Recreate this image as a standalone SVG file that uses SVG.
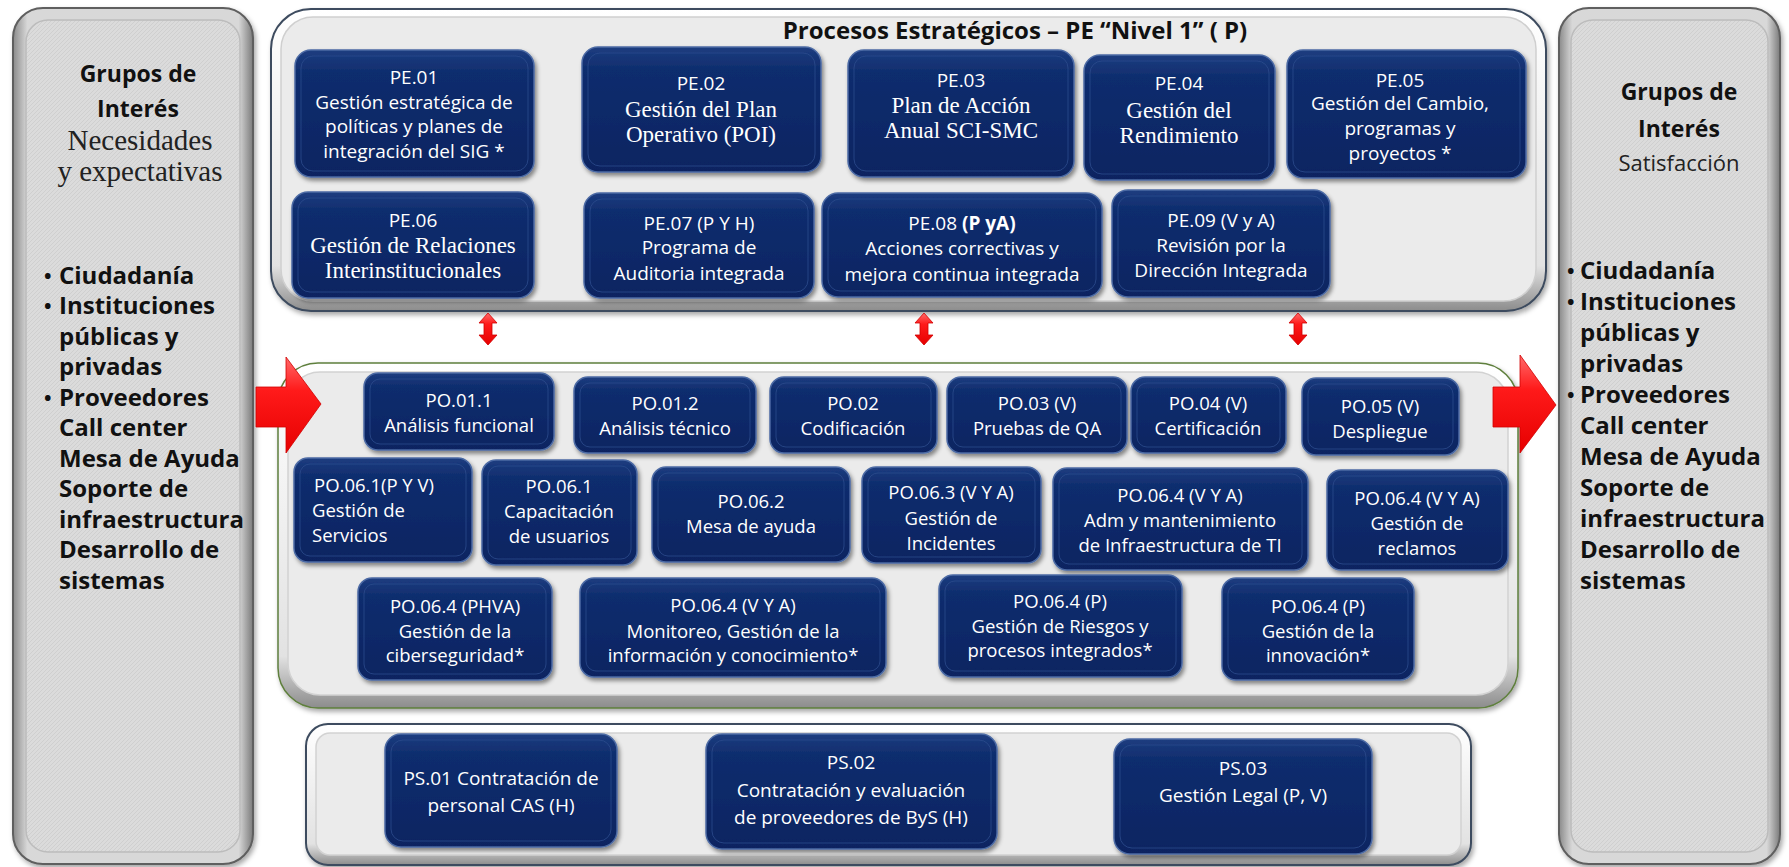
<svg xmlns="http://www.w3.org/2000/svg" width="1789" height="867" viewBox="0 0 1789 867">
<defs>
<linearGradient id="nodeGrad" x1="0" y1="0" x2="0" y2="1"><stop offset="0" stop-color="#1d3d80"/><stop offset="0.18" stop-color="#0f2d6e"/><stop offset="1" stop-color="#0a2461"/></linearGradient>
<linearGradient id="frameGrad" x1="0" y1="0" x2="0" y2="1"><stop offset="0" stop-color="#ffffff"/><stop offset="0.85" stop-color="#e2e2e2"/><stop offset="1" stop-color="#8c8c8c"/></linearGradient>
<linearGradient id="sideGrad" x1="0" y1="0" x2="1" y2="0"><stop offset="0" stop-color="#8a8a8a"/><stop offset="0.06" stop-color="#d8d8d8"/><stop offset="0.94" stop-color="#d8d8d8"/><stop offset="1" stop-color="#7a7a7a"/></linearGradient>
<linearGradient id="redGrad" x1="0" y1="0" x2="0" y2="1"><stop offset="0" stop-color="#ff6a6a"/><stop offset="0.35" stop-color="#ff1a1a"/><stop offset="1" stop-color="#e60000"/></linearGradient>
<pattern id="hatch" width="4" height="4" patternUnits="userSpaceOnUse"><rect width="4" height="4" fill="#dbdbdb"/><path d="M0 4 L4 0" stroke="#cbcbcb" stroke-width="0.8"/></pattern>
<filter id="shadow" x="-10%" y="-10%" width="120%" height="130%"><feDropShadow dx="2" dy="3" stdDeviation="2" flood-color="#000" flood-opacity="0.45"/></filter>
<filter id="pshadow" x="-5%" y="-5%" width="110%" height="115%"><feDropShadow dx="2" dy="3" stdDeviation="2.5" flood-color="#000" flood-opacity="0.35"/></filter>
<style>
.node rect.b{fill:url(#nodeGrad);stroke:#4c6aa4;stroke-width:1.5;filter:url(#shadow)}
.node rect.i{fill:none;stroke:#2c4b8c;stroke-width:1;opacity:0.8}
.t{font-family:'Open Sans','Liberation Sans',sans-serif;font-size:19px;fill:#ffffff;text-anchor:middle}
.s{font-family:'Liberation Serif','Times New Roman',serif;font-size:23px;fill:#ffffff;text-anchor:middle}
.po{font-size:18.5px}
.l{text-anchor:start}
.side{font-family:'Open Sans','Liberation Sans',sans-serif;font-weight:bold;font-size:24px;fill:#111}
.bul{font-size:20px}
.head{font-family:'Open Sans','Liberation Sans',sans-serif;font-weight:bold;font-size:23px;fill:#111;text-anchor:middle}
.red{fill:url(#redGrad);stroke:#d00000;stroke-width:0.8}
</style>
</defs>
<rect width="1789" height="867" fill="#ffffff"/>

<!-- Side panels -->
<g id="grupos-interes-necesidades">
<rect x="13" y="8" width="240" height="856" rx="30" fill="url(#sideGrad)" stroke="#5e5e5e" stroke-width="2" filter="url(#pshadow)"/>
<rect x="26" y="20" width="214" height="832" rx="22" fill="url(#hatch)" stroke="#bcbcbc" stroke-width="1.5"/>
<text class="head" x="138" y="82">Grupos de</text>
<text class="head" x="138" y="117">Interés</text>
<text x="140" y="150" font-family="'Liberation Serif','Times New Roman',serif" font-size="29" fill="#222" text-anchor="middle">Necesidades</text>
<text x="140" y="181" font-family="'Liberation Serif','Times New Roman',serif" font-size="29" fill="#222" text-anchor="middle">y expectativas</text>
<g class="side">
<text class="bul" x="44" y="283">•</text><text x="59" y="284">Ciudadanía</text>
<text class="bul" x="44" y="313">•</text><text x="59" y="314">Instituciones</text>
<text x="59" y="345">públicas y</text>
<text x="59" y="375">privadas</text>
<text class="bul" x="44" y="405">•</text><text x="59" y="406">Proveedores</text>
<text x="59" y="436">Call center</text>
<text x="59" y="467">Mesa de Ayuda</text>
<text x="59" y="497">Soporte de</text>
<text x="59" y="528">infraestructura</text>
<text x="59" y="558">Desarrollo de</text>
<text x="59" y="589">sistemas</text>
</g>
</g>

<g id="grupos-interes-satisfaccion">
<rect x="1559" y="8" width="221" height="856" rx="30" fill="url(#sideGrad)" stroke="#5e5e5e" stroke-width="2" filter="url(#pshadow)"/>
<rect x="1571" y="20" width="197" height="832" rx="22" fill="url(#hatch)" stroke="#bcbcbc" stroke-width="1.5"/>
<text class="head" x="1679" y="100">Grupos de</text>
<text class="head" x="1679" y="137">Interés</text>
<text x="1679" y="171" font-family="'Open Sans','Liberation Sans',sans-serif" font-size="22" fill="#222" text-anchor="middle">Satisfacción</text>
<g class="side">
<text class="bul" x="1567" y="278">•</text><text x="1580" y="279">Ciudadanía</text>
<text class="bul" x="1567" y="309">•</text><text x="1580" y="310">Instituciones</text>
<text x="1580" y="341">públicas y</text>
<text x="1580" y="372">privadas</text>
<text class="bul" x="1567" y="402">•</text><text x="1580" y="403">Proveedores</text>
<text x="1580" y="434">Call center</text>
<text x="1580" y="465">Mesa de Ayuda</text>
<text x="1580" y="496">Soporte de</text>
<text x="1580" y="527">infraestructura</text>
<text x="1580" y="558">Desarrollo de</text>
<text x="1580" y="589">sistemas</text>
</g>
</g>

<!-- Process panels -->
<g id="panel-pe">
<rect x="271" y="9" width="1275" height="302" rx="40" fill="url(#frameGrad)" stroke="#3d4b5e" stroke-width="2" filter="url(#pshadow)"/>
<rect x="281" y="17" width="1255" height="284" rx="32" fill="#ebebeb" stroke="#cfcfcf" stroke-width="1.5"/>
<text x="1015" y="39" font-family="'Open Sans','Liberation Sans',sans-serif" font-weight="bold" font-size="24" fill="#111" text-anchor="middle">Procesos Estratégicos – PE “Nivel 1” ( P)</text>
</g>
<g id="panel-po">
<rect x="278" y="363" width="1240" height="345" rx="40" fill="url(#frameGrad)" stroke="#5e7f3c" stroke-width="1.5" filter="url(#pshadow)"/>
<rect x="288" y="372" width="1220" height="323" rx="32" fill="#ebebeb" stroke="#d2d2d2" stroke-width="1.5"/>
</g>
<g id="panel-ps">
<rect x="306" y="724" width="1165" height="141" rx="22" fill="url(#frameGrad)" stroke="#3d4b5e" stroke-width="2" filter="url(#pshadow)"/>
<rect x="316" y="733" width="1145" height="122" rx="14" fill="#ebebeb" stroke="#d2d2d2" stroke-width="1.5"/>
</g>

<!-- Connectors -->
<g id="connectors">
<path class="red" d="M256 387 L286 387 L286 357 L321 404 L286 453 L286 427 L256 427 Z"/>
<path class="red" d="M1493 387 L1520 387 L1520 355 L1556 405 L1520 453 L1520 427 L1493 427 Z"/>
<path class="red" d="M488 313 L497 323 L492 323 L492 335 L497 335 L488 345 L479 335 L484 335 L484 323 L479 323 Z"/>
<path class="red" d="M924 313 L933 323 L928 323 L928 335 L933 335 L924 345 L915 335 L920 335 L920 323 L915 323 Z"/>
<path class="red" d="M1298 313 L1307 323 L1302 323 L1302 335 L1307 335 L1298 345 L1289 335 L1294 335 L1294 323 L1289 323 Z"/>
</g>

<!-- PE nodes -->
<g id="PE01" class="node"><rect class="b" x="295" y="50" width="239" height="127" rx="16"/><rect class="i" x="301" y="56" width="227" height="115" rx="12"/>
<text class="t" x="414" y="84">PE.01</text><text class="t" x="414" y="109">Gestión estratégica de</text><text class="t" x="414" y="133">políticas y planes de</text><text class="t" x="414" y="158">integración del SIG *</text></g>
<g id="PE02" class="node"><rect class="b" x="582" y="47" width="239" height="125" rx="16"/><rect class="i" x="588" y="53" width="227" height="113" rx="12"/>
<text class="t" x="701" y="90">PE.02</text><text class="s" x="701" y="117">Gestión del Plan</text><text class="s" x="701" y="142">Operativo (POI)</text></g>
<g id="PE03" class="node"><rect class="b" x="848" y="50" width="226" height="127" rx="16"/><rect class="i" x="854" y="56" width="214" height="115" rx="12"/>
<text class="t" x="961" y="87">PE.03</text><text class="s" x="961" y="113">Plan de Acción</text><text class="s" x="961" y="138">Anual SCI-SMC</text></g>
<g id="PE04" class="node"><rect class="b" x="1084" y="55" width="191" height="125" rx="16"/><rect class="i" x="1090" y="61" width="179" height="113" rx="12"/>
<text class="t" x="1179" y="90">PE.04</text><text class="s" x="1179" y="118">Gestión del</text><text class="s" x="1179" y="143">Rendimiento</text></g>
<g id="PE05" class="node"><rect class="b" x="1287" y="50" width="239" height="128" rx="16"/><rect class="i" x="1293" y="56" width="227" height="116" rx="12"/>
<text class="t" x="1400" y="87">PE.05</text><text class="t" x="1400" y="110">Gestión del Cambio,</text><text class="t" x="1400" y="135">programas y</text><text class="t" x="1400" y="160">proyectos *</text></g>
<g id="PE06" class="node"><rect class="b" x="292" y="192" width="242" height="106" rx="16"/><rect class="i" x="298" y="198" width="230" height="94" rx="12"/>
<text class="t" x="413" y="227">PE.06</text><text class="s" x="413" y="253">Gestión de Relaciones</text><text class="s" x="413" y="278">Interinstitucionales</text></g>
<g id="PE07" class="node"><rect class="b" x="584" y="193" width="230" height="105" rx="16"/><rect class="i" x="590" y="199" width="218" height="93" rx="12"/>
<text class="t" x="699" y="230">PE.07 (P Y H)</text><text class="t" x="699" y="254">Programa de</text><text class="t" x="699" y="280">Auditoria integrada</text></g>
<g id="PE08" class="node"><rect class="b" x="822" y="193" width="280" height="104" rx="16"/><rect class="i" x="828" y="199" width="268" height="92" rx="12"/>
<text class="t" x="962" y="230">PE.08  <tspan font-weight="bold">(P yA)</tspan></text><text class="t" x="962" y="255">Acciones correctivas y</text><text class="t" x="962" y="281">mejora continua integrada</text></g>
<g id="PE09" class="node"><rect class="b" x="1112" y="190" width="218" height="107" rx="16"/><rect class="i" x="1118" y="196" width="206" height="95" rx="12"/>
<text class="t" x="1221" y="227">PE.09  (V y A)</text><text class="t" x="1221" y="252">Revisión  por la</text><text class="t" x="1221" y="277">Dirección Integrada</text></g>

<!-- PO nodes -->
<g id="PO011" class="node"><rect class="b" x="364" y="373" width="190" height="77" rx="14"/><rect class="i" x="370" y="379" width="178" height="65" rx="10"/>
<text class="t po" x="459" y="407">PO.01.1</text><text class="t po" x="459" y="432">Análisis funcional</text></g>
<g id="PO012" class="node"><rect class="b" x="574" y="377" width="182" height="76" rx="14"/><rect class="i" x="580" y="383" width="170" height="64" rx="10"/>
<text class="t po" x="665" y="410">PO.01.2</text><text class="t po" x="665" y="435">Análisis técnico</text></g>
<g id="PO02" class="node"><rect class="b" x="770" y="377" width="167" height="76" rx="14"/><rect class="i" x="776" y="383" width="155" height="64" rx="10"/>
<text class="t po" x="853" y="410">PO.02</text><text class="t po" x="853" y="435">Codificación</text></g>
<g id="PO03" class="node"><rect class="b" x="947" y="377" width="180" height="76" rx="14"/><rect class="i" x="953" y="383" width="168" height="64" rx="10"/>
<text class="t po" x="1037" y="410">PO.03 (V)</text><text class="t po" x="1037" y="435">Pruebas de QA</text></g>
<g id="PO04" class="node"><rect class="b" x="1131" y="377" width="155" height="76" rx="14"/><rect class="i" x="1137" y="383" width="143" height="64" rx="10"/>
<text class="t po" x="1208" y="410">PO.04 (V)</text><text class="t po" x="1208" y="435">Certificación</text></g>
<g id="PO05" class="node"><rect class="b" x="1302" y="378" width="157" height="77" rx="14"/><rect class="i" x="1308" y="384" width="145" height="65" rx="10"/>
<text class="t po" x="1380" y="413">PO.05 (V)</text><text class="t po" x="1380" y="438">Despliegue</text></g>
<g id="PO061-servicios" class="node"><rect class="b" x="294" y="458" width="178" height="104" rx="14"/><rect class="i" x="300" y="464" width="166" height="92" rx="10"/>
<text class="t po l" x="314" y="492">PO.06.1(P Y V)</text><text class="t po l" x="312" y="517">Gestión de</text><text class="t po l" x="312" y="542">Servicios</text></g>
<g id="PO061-capacitacion" class="node"><rect class="b" x="482" y="460" width="155" height="105" rx="14"/><rect class="i" x="488" y="466" width="143" height="93" rx="10"/>
<text class="t po" x="559" y="493">PO.06.1</text><text class="t po" x="559" y="518">Capacitación</text><text class="t po" x="559" y="543">de usuarios</text></g>
<g id="PO062" class="node"><rect class="b" x="652" y="467" width="198" height="95" rx="14"/><rect class="i" x="658" y="473" width="186" height="83" rx="10"/>
<text class="t po" x="751" y="508">PO.06.2</text><text class="t po" x="751" y="533">Mesa de ayuda</text></g>
<g id="PO063" class="node"><rect class="b" x="862" y="467" width="179" height="96" rx="14"/><rect class="i" x="868" y="473" width="167" height="84" rx="10"/>
<text class="t po" x="951" y="499">PO.06.3 (V Y A)</text><text class="t po" x="951" y="525">Gestión de</text><text class="t po" x="951" y="550">Incidentes</text></g>
<g id="PO064-infra" class="node"><rect class="b" x="1053" y="468" width="255" height="102" rx="14"/><rect class="i" x="1059" y="474" width="243" height="90" rx="10"/>
<text class="t po" x="1180" y="502">PO.06.4 (V Y A)</text><text class="t po" x="1180" y="527">Adm y mantenimiento</text><text class="t po" x="1180" y="552">de Infraestructura de TI</text></g>
<g id="PO064-reclamos" class="node"><rect class="b" x="1327" y="470" width="181" height="100" rx="14"/><rect class="i" x="1333" y="476" width="169" height="88" rx="10"/>
<text class="t po" x="1417" y="505">PO.06.4  (V Y A)</text><text class="t po" x="1417" y="530">Gestión de</text><text class="t po" x="1417" y="555">reclamos</text></g>
<g id="PO064-ciber" class="node"><rect class="b" x="358" y="578" width="194" height="102" rx="14"/><rect class="i" x="364" y="584" width="182" height="90" rx="10"/>
<text class="t po" x="455" y="613">PO.06.4  (PHVA)</text><text class="t po" x="455" y="638">Gestión  de la</text><text class="t po" x="455" y="662">ciberseguridad*</text></g>
<g id="PO064-monitoreo" class="node"><rect class="b" x="580" y="578" width="306" height="99" rx="14"/><rect class="i" x="586" y="584" width="294" height="87" rx="10"/>
<text class="t po" x="733" y="612">PO.06.4 (V Y A)</text><text class="t po" x="733" y="638">Monitoreo, Gestión de la</text><text class="t po" x="733" y="662">información y conocimiento*</text></g>
<g id="PO064-riesgos" class="node"><rect class="b" x="939" y="575" width="243" height="102" rx="14"/><rect class="i" x="945" y="581" width="231" height="90" rx="10"/>
<text class="t po" x="1060" y="608">PO.06.4  (P)</text><text class="t po" x="1060" y="633">Gestión  de Riesgos y</text><text class="t po" x="1060" y="657">procesos integrados*</text></g>
<g id="PO064-innovacion" class="node"><rect class="b" x="1222" y="578" width="192" height="102" rx="14"/><rect class="i" x="1228" y="584" width="180" height="90" rx="10"/>
<text class="t po" x="1318" y="613">PO.06.4 (P)</text><text class="t po" x="1318" y="638">Gestión  de la</text><text class="t po" x="1318" y="662">innovación*</text></g>

<!-- PS nodes -->
<g id="PS01" class="node"><rect class="b" x="385" y="734" width="232" height="113" rx="16"/><rect class="i" x="391" y="740" width="220" height="101" rx="12"/>
<text class="t" x="501" y="785">PS.01 Contratación de</text><text class="t" x="501" y="812">personal CAS (H)</text></g>
<g id="PS02" class="node"><rect class="b" x="706" y="734" width="291" height="115" rx="16"/><rect class="i" x="712" y="740" width="279" height="103" rx="12"/>
<text class="t" x="851" y="769">PS.02</text><text class="t" x="851" y="797">Contratación y evaluación</text><text class="t" x="851" y="824">de proveedores de ByS (H)</text></g>
<g id="PS03" class="node"><rect class="b" x="1114" y="739" width="258" height="115" rx="16"/><rect class="i" x="1120" y="745" width="246" height="103" rx="12"/>
<text class="t" x="1243" y="775">PS.03</text><text class="t" x="1243" y="802">Gestión Legal (P, V)</text></g>
</svg>
